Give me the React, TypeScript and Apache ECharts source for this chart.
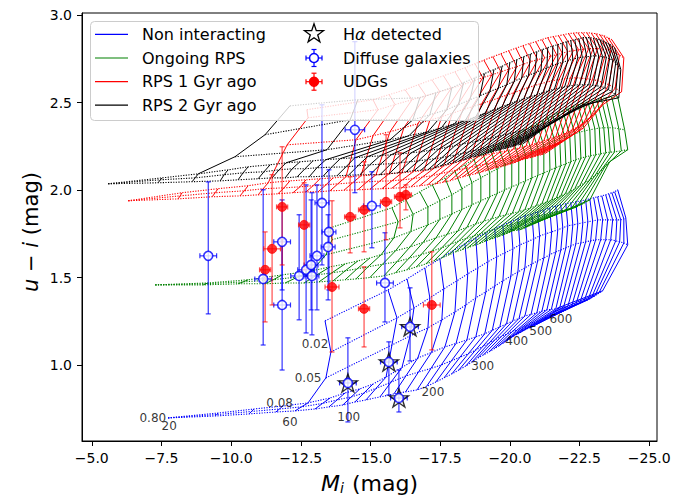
import React, { useEffect, useRef } from 'react';
import * as echarts from 'echarts';

type P = [number, number];

const xTicks = [-5, -7.5, -10, -12.5, -15, -17.5, -20, -22.5, -25];
const yTicks = [1.0, 1.5, 2.0, 2.5, 3.0];

// model grid: circular velocity columns (km/s)
const vcGrid = [20, 30, 40, 50, 60, 70, 80, 90, 100, 110, 125, 140, 155, 170, 185, 200, 215, 230, 245, 260, 275, 290, 305, 320, 335, 350, 365, 380, 395, 410, 425, 440, 455, 470, 485, 500, 515, 530, 545, 560, 580, 600];
const fullVc = [60, 110, 125, 140, 155, 170, 185, 200, 215, 230, 245, 260, 275, 290, 305, 320, 335, 350, 365, 380, 395, 410, 425, 440, 455, 470, 485, 500, 515, 530, 545, 560, 580, 600];
const fullVcBlack = [40, 80, 110, 125, 140, 155, 170, 185, 200, 215, 230, 245, 260, 275, 290, 305, 320, 335, 350, 365, 380, 395, 410, 425, 440, 455, 470, 485, 500, 515, 530, 545, 560, 580, 600];

// ---- Non interacting (blue) ----
const blueB2: P[] = [[-7.74,0.697],[-9.43,0.708],[-10.65,0.720],[-11.61,0.731],[-12.29,0.737],[-13.01,0.748],[-13.51,0.760],[-14.01,0.771],[-14.44,0.788],[-14.84,0.800],[-15.34,0.817],[-15.84,0.834],[-16.26,0.846],[-16.67,0.857],[-17.01,0.877],[-17.35,0.903],[-17.64,0.926],[-17.92,0.949],[-18.17,0.971],[-18.42,0.994],[-18.64,1.017],[-18.85,1.040],[-19.05,1.057],[-19.25,1.074],[-19.43,1.092],[-19.61,1.109],[-19.77,1.126],[-19.93,1.143],[-20.08,1.160],[-20.22,1.172],[-20.35,1.183],[-20.47,1.195],[-20.60,1.206],[-20.72,1.212],[-20.85,1.223],[-20.97,1.235],[-21.10,1.246],[-21.22,1.258],[-21.33,1.269],[-21.43,1.280],[-21.58,1.303],[-21.72,1.326]];
const blueB1: P[] = [[-7.74,0.697],[-9.48,0.716],[-10.73,0.734],[-11.73,0.748],[-12.52,0.760],[-13.28,0.780],[-13.80,0.800],[-14.31,0.817],[-14.77,0.840],[-15.20,0.866],[-15.74,0.902],[-16.27,0.937],[-16.72,0.959],[-17.17,0.980],[-17.54,1.000],[-17.90,1.023],[-18.21,1.044],[-18.51,1.064],[-18.77,1.085],[-19.03,1.106],[-19.26,1.126],[-19.48,1.146],[-19.69,1.162],[-19.89,1.177],[-20.09,1.191],[-20.29,1.204],[-20.46,1.217],[-20.63,1.229],[-20.78,1.239],[-20.93,1.247],[-21.07,1.255],[-21.20,1.264],[-21.34,1.271],[-21.47,1.275],[-21.61,1.285],[-21.74,1.295],[-21.88,1.305],[-22.01,1.315],[-22.13,1.327],[-22.24,1.338],[-22.38,1.357],[-22.52,1.375]];
const blueR3: P[] = [[-7.74,0.697],[-9.53,0.725],[-10.82,0.748],[-11.86,0.765],[-12.76,0.783],[-13.55,0.811],[-14.09,0.840],[-14.62,0.863],[-15.09,0.891],[-15.56,0.931],[-16.13,0.986],[-16.70,1.040],[-17.19,1.072],[-17.67,1.103],[-18.07,1.123],[-18.46,1.143],[-18.78,1.161],[-19.10,1.178],[-19.37,1.198],[-19.64,1.218],[-19.88,1.235],[-20.11,1.252],[-20.33,1.266],[-20.54,1.280],[-20.76,1.289],[-20.97,1.298],[-21.15,1.307],[-21.33,1.315],[-21.49,1.318],[-21.65,1.321],[-21.79,1.327],[-21.93,1.332],[-22.08,1.335],[-22.22,1.338],[-22.37,1.347],[-22.51,1.355],[-22.66,1.364],[-22.80,1.372],[-22.93,1.384],[-23.05,1.395],[-23.19,1.410],[-23.33,1.424]];
const blueR2: P[] = [[-13.40,0.926],[-15.77,1.114],[-16.42,1.166],[-17.06,1.212],[-17.56,1.258],[-18.03,1.303],[-18.42,1.343],[-18.78,1.384],[-19.14,1.418],[-19.46,1.452],[-19.75,1.481],[-20.04,1.509],[-20.29,1.532],[-20.54,1.555],[-20.79,1.578],[-21.00,1.595],[-21.22,1.612],[-21.43,1.630],[-21.65,1.647],[-21.83,1.658],[-22.01,1.670],[-22.19,1.681],[-22.37,1.693],[-22.55,1.698],[-22.72,1.704],[-22.90,1.710],[-23.08,1.716],[-23.26,1.716],[-23.44,1.716],[-23.62,1.716],[-23.80,1.710],[-23.94,1.704],[-24.09,1.698],[-24.23,1.687]];
const blueR1: P[] = [[-13.58,1.074],[-15.95,1.269],[-16.56,1.326],[-17.13,1.384],[-17.63,1.435],[-18.10,1.481],[-18.49,1.521],[-18.85,1.555],[-19.21,1.590],[-19.53,1.618],[-19.82,1.641],[-20.11,1.664],[-20.36,1.687],[-20.61,1.704],[-20.86,1.721],[-21.07,1.738],[-21.29,1.750],[-21.50,1.761],[-21.72,1.773],[-21.90,1.784],[-22.08,1.796],[-22.26,1.801],[-22.44,1.807],[-22.62,1.813],[-22.80,1.819],[-22.97,1.824],[-23.15,1.830],[-23.33,1.830],[-23.51,1.830],[-23.69,1.830],[-23.84,1.830],[-23.98,1.830],[-24.09,1.836],[-24.16,1.842]];
const blueR0: P[] = [[-13.37,1.252],[-15.63,1.429],[-16.31,1.492],[-16.95,1.555],[-17.49,1.607],[-17.96,1.653],[-18.39,1.693],[-18.78,1.727],[-19.14,1.756],[-19.46,1.779],[-19.75,1.801],[-20.04,1.819],[-20.29,1.836],[-20.54,1.853],[-20.79,1.864],[-21.00,1.876],[-21.22,1.887],[-21.43,1.899],[-21.65,1.910],[-21.83,1.916],[-22.01,1.922],[-22.19,1.927],[-22.37,1.933],[-22.55,1.939],[-22.72,1.944],[-22.87,1.950],[-23.01,1.956],[-23.15,1.962],[-23.30,1.967],[-23.44,1.973],[-23.55,1.979],[-23.66,1.985],[-23.76,1.990],[-23.87,2.002]];

// ---- Ongoing RPS (green) ----
const greenB2: P[] = [[-7.28,1.458],[-9.00,1.458],[-10.25,1.464],[-11.22,1.464],[-11.94,1.469],[-12.62,1.469],[-13.15,1.475],[-13.66,1.481],[-14.09,1.487],[-14.48,1.492],[-14.98,1.500],[-15.48,1.509],[-15.90,1.527],[-16.31,1.544],[-16.65,1.561],[-16.99,1.578],[-17.28,1.595],[-17.56,1.612],[-17.81,1.630],[-18.06,1.647],[-18.28,1.659],[-18.49,1.670],[-18.69,1.682],[-18.89,1.693],[-19.07,1.705],[-19.25,1.716],[-19.41,1.725],[-19.57,1.733],[-19.72,1.742],[-19.86,1.750],[-19.99,1.759],[-20.11,1.767],[-20.24,1.770],[-20.36,1.773],[-20.49,1.782],[-20.61,1.790],[-20.74,1.799],[-20.86,1.807],[-20.97,1.816],[-21.07,1.824],[-21.22,1.833],[-21.36,1.842]];
const greenB1: P[] = [[-7.28,1.458],[-9.09,1.464],[-10.43,1.475],[-11.51,1.487],[-12.40,1.504],[-13.08,1.515],[-13.62,1.527],[-14.09,1.538],[-14.52,1.550],[-14.91,1.561],[-15.43,1.576],[-15.95,1.590],[-16.38,1.610],[-16.81,1.630],[-17.19,1.650],[-17.56,1.670],[-17.87,1.690],[-18.17,1.710],[-18.44,1.724],[-18.71,1.738],[-18.94,1.750],[-19.17,1.761],[-19.39,1.773],[-19.61,1.784],[-19.81,1.793],[-20.00,1.801],[-20.18,1.810],[-20.36,1.819],[-20.52,1.828],[-20.68,1.836],[-20.84,1.845],[-21.00,1.853],[-21.17,1.859],[-21.33,1.864],[-21.49,1.870],[-21.65,1.876],[-21.83,1.882],[-22.01,1.887],[-22.21,1.896],[-22.40,1.904],[-22.64,1.924],[-22.87,1.944]];
const greenR3: P[] = [[-7.28,1.458],[-9.18,1.469],[-10.61,1.487],[-11.83,1.515],[-12.90,1.538],[-13.55,1.561],[-14.09,1.578],[-14.55,1.595],[-14.98,1.612],[-15.38,1.630],[-15.90,1.653],[-16.42,1.675],[-16.89,1.701],[-17.35,1.727],[-17.75,1.747],[-18.14,1.767],[-18.46,1.787],[-18.78,1.807],[-19.07,1.822],[-19.35,1.836],[-19.61,1.848],[-19.86,1.859],[-20.09,1.868],[-20.32,1.876],[-20.54,1.888],[-20.75,1.899],[-20.95,1.911],[-21.15,1.922],[-21.33,1.933],[-21.50,1.944],[-21.67,1.956],[-21.83,1.967],[-21.99,1.979],[-22.15,1.990],[-22.33,2.008],[-22.51,2.025],[-22.69,2.042],[-22.87,2.059],[-23.05,2.082],[-23.23,2.105],[-23.41,2.134],[-23.58,2.162]];
const greenR2: P[] = [[-13.40,1.630],[-15.84,1.727],[-16.45,1.764],[-17.06,1.801],[-17.49,1.833],[-17.92,1.864],[-18.28,1.890],[-18.64,1.916],[-18.96,1.939],[-19.28,1.962],[-19.55,1.982],[-19.82,2.002],[-20.07,2.019],[-20.32,2.036],[-20.56,2.053],[-20.79,2.070],[-21.01,2.085],[-21.22,2.099],[-21.44,2.114],[-21.65,2.128],[-21.83,2.140],[-22.01,2.151],[-22.19,2.163],[-22.37,2.174],[-22.55,2.183],[-22.72,2.191],[-22.90,2.197],[-23.08,2.202],[-23.26,2.208],[-23.44,2.214],[-23.60,2.217],[-23.76,2.219],[-24.00,2.225],[-24.23,2.231]];
const greenR1: P[] = [[-13.62,1.716],[-15.99,1.819],[-16.53,1.862],[-17.06,1.904],[-17.49,1.939],[-17.92,1.973],[-18.28,2.008],[-18.64,2.042],[-18.96,2.071],[-19.28,2.099],[-19.55,2.122],[-19.82,2.145],[-20.07,2.165],[-20.32,2.185],[-20.56,2.202],[-20.79,2.219],[-21.01,2.237],[-21.22,2.254],[-21.42,2.268],[-21.61,2.282],[-21.79,2.294],[-21.97,2.305],[-22.15,2.314],[-22.33,2.322],[-22.51,2.331],[-22.69,2.339],[-22.87,2.345],[-23.05,2.351],[-23.21,2.354],[-23.37,2.357],[-23.53,2.357],[-23.69,2.357],[-23.91,2.351],[-24.12,2.345]];
const greenR0: P[] = [[-13.55,1.784],[-15.77,1.899],[-16.27,1.945],[-16.77,1.990],[-17.22,2.030],[-17.67,2.070],[-18.03,2.108],[-18.39,2.145],[-18.71,2.177],[-19.03,2.208],[-19.30,2.234],[-19.57,2.259],[-19.82,2.282],[-20.07,2.305],[-20.31,2.325],[-20.54,2.345],[-20.76,2.363],[-20.97,2.380],[-21.17,2.397],[-21.36,2.414],[-21.54,2.428],[-21.72,2.442],[-21.90,2.454],[-22.08,2.465],[-22.26,2.477],[-22.44,2.488],[-22.62,2.497],[-22.80,2.505],[-22.96,2.511],[-23.12,2.517],[-23.28,2.523],[-23.44,2.528],[-23.66,2.531],[-23.87,2.534]];

// ---- RPS 1 Gyr ago (red) ----
const redB2: P[] = [[-6.31,1.939],[-8.10,1.950],[-9.32,1.962],[-10.32,1.967],[-10.97,1.973],[-11.68,1.979],[-12.22,1.985],[-12.69,1.990],[-13.12,1.990],[-13.55,1.996],[-14.05,1.999],[-14.55,2.002],[-14.98,2.005],[-15.41,2.008],[-15.77,2.011],[-16.13,2.013],[-16.45,2.019],[-16.77,2.025],[-17.06,2.031],[-17.35,2.036],[-17.60,2.045],[-17.85,2.053],[-18.08,2.065],[-18.31,2.076],[-18.53,2.085],[-18.75,2.093],[-18.95,2.102],[-19.14,2.111],[-19.32,2.120],[-19.50,2.128],[-19.66,2.134],[-19.82,2.139],[-19.98,2.148],[-20.14,2.156],[-20.29,2.165],[-20.43,2.174],[-20.58,2.180],[-20.72,2.185],[-20.85,2.191],[-20.97,2.196],[-21.11,2.202],[-21.25,2.208]];
const redB1: P[] = [[-6.31,1.939],[-8.17,1.967],[-9.43,1.985],[-10.47,1.996],[-11.15,2.008],[-11.90,2.013],[-12.47,2.019],[-12.94,2.025],[-13.40,2.030],[-13.83,2.036],[-14.36,2.042],[-14.88,2.048],[-15.33,2.051],[-15.77,2.053],[-16.15,2.059],[-16.52,2.065],[-16.86,2.074],[-17.20,2.082],[-17.51,2.094],[-17.81,2.105],[-18.08,2.114],[-18.35,2.122],[-18.60,2.131],[-18.85,2.139],[-19.09,2.148],[-19.32,2.156],[-19.54,2.165],[-19.75,2.174],[-19.95,2.183],[-20.14,2.191],[-20.34,2.200],[-20.54,2.208],[-20.74,2.217],[-20.93,2.225],[-21.13,2.237],[-21.33,2.248],[-21.53,2.260],[-21.72,2.271],[-21.94,2.288],[-22.15,2.305],[-22.40,2.331],[-22.65,2.357]];
const redR3: P[] = [[-6.31,1.939],[-8.24,1.985],[-9.53,2.008],[-10.61,2.025],[-11.33,2.042],[-12.11,2.053],[-12.69,2.059],[-13.19,2.065],[-13.66,2.070],[-14.12,2.076],[-14.66,2.082],[-15.20,2.088],[-15.67,2.094],[-16.13,2.099],[-16.53,2.105],[-16.92,2.111],[-17.28,2.125],[-17.63,2.139],[-17.96,2.154],[-18.28,2.168],[-18.57,2.180],[-18.85,2.191],[-19.12,2.200],[-19.39,2.208],[-19.64,2.217],[-19.89,2.225],[-20.13,2.234],[-20.36,2.242],[-20.58,2.251],[-20.79,2.259],[-21.01,2.271],[-21.22,2.282],[-21.44,2.294],[-21.65,2.305],[-21.85,2.317],[-22.04,2.328],[-22.24,2.345],[-22.44,2.362],[-22.66,2.388],[-22.87,2.414],[-23.10,2.451],[-23.33,2.488]];
const redR2: P[] = [[-12.01,2.259],[-14.48,2.288],[-15.09,2.311],[-15.70,2.334],[-16.20,2.357],[-16.70,2.380],[-17.13,2.400],[-17.56,2.420],[-17.94,2.440],[-18.31,2.460],[-18.65,2.477],[-18.99,2.494],[-19.30,2.511],[-19.61,2.528],[-19.88,2.543],[-20.14,2.557],[-20.40,2.572],[-20.65,2.586],[-20.88,2.598],[-21.11,2.609],[-21.33,2.618],[-21.54,2.626],[-21.76,2.632],[-21.97,2.637],[-22.17,2.640],[-22.37,2.643],[-22.57,2.640],[-22.76,2.637],[-22.96,2.632],[-23.15,2.626],[-23.35,2.615],[-23.55,2.603],[-23.78,2.583],[-24.01,2.563]];
const redR1: P[] = [[-12.76,2.414],[-15.27,2.460],[-15.88,2.489],[-16.49,2.517],[-16.99,2.540],[-17.49,2.563],[-17.90,2.583],[-18.31,2.603],[-18.67,2.623],[-19.03,2.643],[-19.36,2.660],[-19.68,2.677],[-19.97,2.692],[-20.25,2.706],[-20.50,2.721],[-20.75,2.735],[-21.00,2.746],[-21.25,2.757],[-21.47,2.766],[-21.68,2.774],[-21.88,2.783],[-22.08,2.792],[-22.28,2.798],[-22.47,2.803],[-22.65,2.806],[-22.83,2.809],[-22.99,2.809],[-23.15,2.809],[-23.32,2.806],[-23.48,2.803],[-23.62,2.795],[-23.76,2.786],[-23.93,2.772],[-24.09,2.757]];
const redR0: P[] = [[-12.72,2.460],[-15.09,2.517],[-15.67,2.546],[-16.24,2.574],[-16.72,2.603],[-17.20,2.631],[-17.62,2.654],[-18.03,2.677],[-18.39,2.700],[-18.75,2.723],[-19.07,2.743],[-19.39,2.763],[-19.68,2.780],[-19.96,2.797],[-20.22,2.812],[-20.47,2.826],[-20.70,2.838],[-20.93,2.849],[-21.15,2.861],[-21.36,2.872],[-21.56,2.878],[-21.75,2.883],[-21.93,2.889],[-22.11,2.895],[-22.28,2.898],[-22.44,2.900],[-22.60,2.900],[-22.76,2.900],[-22.92,2.898],[-23.08,2.895],[-23.23,2.889],[-23.37,2.883],[-23.52,2.872],[-23.66,2.860]];

// ---- RPS 2 Gyr ago (black) ----
const blackB2: P[] = [[-5.59,2.036],[-7.38,2.042],[-8.60,2.048],[-9.61,2.053],[-10.25,2.059],[-10.97,2.065],[-11.47,2.070],[-11.94,2.070],[-12.37,2.076],[-12.80,2.076],[-13.30,2.079],[-13.80,2.082],[-14.21,2.085],[-14.62,2.088],[-14.98,2.088],[-15.34,2.088],[-15.67,2.094],[-15.99,2.099],[-16.28,2.105],[-16.56,2.111],[-16.81,2.114],[-17.06,2.116],[-17.30,2.128],[-17.53,2.139],[-17.75,2.148],[-17.96,2.156],[-18.16,2.165],[-18.35,2.174],[-18.53,2.183],[-18.71,2.191],[-18.87,2.197],[-19.03,2.202],[-19.19,2.211],[-19.35,2.219],[-19.50,2.225],[-19.64,2.231],[-19.79,2.237],[-19.93,2.242],[-20.06,2.248],[-20.18,2.254],[-20.33,2.260],[-20.47,2.265]];
const blackB1: P[] = [[-5.59,2.036],[-7.46,2.059],[-8.71,2.070],[-9.75,2.088],[-10.43,2.099],[-11.18,2.105],[-11.72,2.116],[-12.19,2.122],[-12.65,2.122],[-13.08,2.128],[-13.60,2.131],[-14.12,2.133],[-14.55,2.139],[-14.98,2.145],[-15.36,2.148],[-15.74,2.151],[-16.08,2.157],[-16.42,2.162],[-16.73,2.168],[-17.03,2.174],[-17.30,2.180],[-17.56,2.185],[-17.81,2.194],[-18.06,2.202],[-18.30,2.211],[-18.53,2.219],[-18.75,2.228],[-18.96,2.236],[-19.16,2.245],[-19.35,2.254],[-19.55,2.263],[-19.75,2.271],[-19.93,2.280],[-20.11,2.288],[-20.29,2.297],[-20.47,2.305],[-20.67,2.317],[-20.86,2.328],[-21.06,2.343],[-21.25,2.357],[-21.45,2.380],[-21.65,2.402]];
const blackR3: P[] = [[-5.59,2.036],[-7.53,2.070],[-8.82,2.093],[-9.89,2.116],[-10.61,2.133],[-11.40,2.145],[-11.97,2.156],[-12.47,2.162],[-12.94,2.168],[-13.40,2.174],[-13.92,2.180],[-14.44,2.185],[-14.89,2.191],[-15.34,2.196],[-15.74,2.202],[-16.13,2.208],[-16.47,2.214],[-16.81,2.219],[-17.14,2.228],[-17.46,2.236],[-17.75,2.245],[-18.03,2.254],[-18.30,2.263],[-18.57,2.271],[-18.82,2.280],[-19.07,2.288],[-19.30,2.297],[-19.53,2.305],[-19.75,2.314],[-19.96,2.322],[-20.18,2.331],[-20.39,2.339],[-20.61,2.348],[-20.82,2.357],[-21.04,2.369],[-21.25,2.380],[-21.47,2.391],[-21.68,2.402],[-21.90,2.420],[-22.11,2.437],[-22.37,2.463],[-22.62,2.488]];
const blackR2: P[] = [[-10.14,2.191],[-13.44,2.231],[-15.70,2.288],[-16.38,2.311],[-17.06,2.334],[-17.55,2.357],[-18.03,2.380],[-18.41,2.400],[-18.78,2.420],[-19.11,2.440],[-19.43,2.460],[-19.72,2.477],[-20.00,2.494],[-20.25,2.509],[-20.50,2.523],[-20.74,2.535],[-20.97,2.546],[-21.19,2.558],[-21.40,2.569],[-21.60,2.578],[-21.79,2.586],[-21.97,2.592],[-22.15,2.597],[-22.33,2.600],[-22.51,2.603],[-22.67,2.603],[-22.83,2.603],[-22.98,2.600],[-23.12,2.597],[-23.27,2.592],[-23.41,2.586],[-23.54,2.575],[-23.66,2.563],[-23.79,2.546],[-23.91,2.528]];
const blackR1: P[] = [[-11.22,2.317],[-14.27,2.402],[-16.52,2.402],[-17.13,2.431],[-17.74,2.460],[-18.16,2.489],[-18.57,2.517],[-18.93,2.540],[-19.28,2.563],[-19.59,2.583],[-19.89,2.603],[-20.16,2.623],[-20.43,2.643],[-20.67,2.657],[-20.90,2.671],[-21.12,2.686],[-21.33,2.700],[-21.53,2.712],[-21.72,2.723],[-21.90,2.732],[-22.08,2.740],[-22.26,2.749],[-22.44,2.757],[-22.60,2.760],[-22.76,2.763],[-22.91,2.766],[-23.05,2.769],[-23.19,2.766],[-23.33,2.763],[-23.46,2.758],[-23.58,2.752],[-23.69,2.741],[-23.80,2.729],[-23.89,2.709],[-23.98,2.689]];
const blackR0: P[] = [[-12.11,2.482],[-14.55,2.517],[-16.77,2.528],[-17.35,2.557],[-17.92,2.586],[-18.34,2.615],[-18.75,2.643],[-19.09,2.666],[-19.43,2.689],[-19.72,2.709],[-20.00,2.729],[-20.25,2.746],[-20.50,2.763],[-20.74,2.778],[-20.97,2.792],[-21.17,2.804],[-21.36,2.815],[-21.54,2.824],[-21.72,2.832],[-21.88,2.841],[-22.04,2.849],[-22.19,2.855],[-22.33,2.860],[-22.48,2.866],[-22.62,2.872],[-22.75,2.872],[-22.87,2.872],[-23.00,2.869],[-23.12,2.866],[-23.23,2.861],[-23.33,2.855],[-23.44,2.846],[-23.55,2.837],[-23.66,2.826],[-23.76,2.815]];

// ---- observed galaxies ----
const diffuseM = [-9.18, -11.15, -11.83, -11.83, -12.44, -12.69, -12.87, -12.90, -13.08, -13.48, -13.51, -13.26, -14.44, -15.05, -15.52, -14.19, -15.66, -16.42, -16.02];
const diffuseUI = [1.624, 1.492, 1.704, 1.343, 1.509, 1.544, 1.572, 1.509, 1.624, 1.675, 1.761, 1.927, 2.345, 1.910, 1.469, 0.897, 1.017, 1.218, 0.811];
const diffuseUIhi = [2.047, 2.002, 1.944, 1.716, 1.859, 2.030, 1.944, 1.985, 2.030, 1.859, 2.116, 2.488, 2.849, 2.105, 1.756, 1.155, 1.132, 1.441, 0.971];
const diffuseUIlo = [1.292, 1.114, 1.429, 0.971, 1.258, 1.183, 1.315, 1.172, 1.315, 1.372, 1.429, 1.572, 1.985, 1.670, 1.246, 0.674, 0.828, 1.023, 0.731];
const diffuseMerr = [0.3, 0.3, 0.3, 0.3, 0.3, 0.3, 0.25, 0.25, 0.25, 0.25, 0.25, 0.25, 0.35, 0.3, 0.3, 0.3, 0.3, 0.3, 0.3];

const udgM = [-11.22, -11.47, -11.83, -12.62, -13.62, -14.77, -14.27, -14.77, -15.56, -16.06, -16.27, -17.20];
const udgUI = [1.544, 1.664, 1.904, 1.801, 1.446, 1.321, 1.847, 1.887, 1.933, 1.962, 1.973, 1.343];
const udgUIhi = [1.761, 2.088, 2.248, 2.042, 1.939, 1.561, 2.076, 2.162, 2.317, 2.214, 2.030, 1.647];
const udgUIlo = [1.246, 1.343, 1.572, 1.544, 1.074, 1.103, 1.641, 1.647, 1.716, 1.784, 1.887, 1.086];
const udgMerr = [0.2, 0.3, 0.2, 0.2, 0.25, 0.2, 0.2, 0.2, 0.2, 0.2, 0.2, 0.3];

const haM = [-14.19, -15.66, -16.42, -16.02];
const haUI = [0.897, 1.017, 1.218, 0.811];

// grid annotations
const lamLabels = ['0.80', '0.08', '0.05', '0.02'];
const lamM = [-7.19, -11.74, -12.76, -13.01];
const lamUI = [0.698, 0.782, 0.926, 1.120];
const vcLabels = ['20', '60', '100', '200', '300', '400', '500', '600'];
const vcM = [-7.78, -12.11, -14.22, -17.24, -19.03, -20.25, -21.11, -21.83];
const vcUI = [0.651, 0.674, 0.702, 0.845, 0.994, 1.137, 1.195, 1.263];

const FONT = 'DejaVu Sans';
const BLUE = '#0000ff';
const GREEN = '#008000';
const RED = '#ff0000';
const BLACK = '#000000';

function starPts(cx: number, cy: number, R: number, r: number): number[][] {
  const pts: number[][] = [];
  for (let k = 0; k < 10; k++) {
    const a = -Math.PI / 2 + (k * Math.PI) / 5;
    const rr = k % 2 ? r : R;
    pts.push([cx + rr * Math.cos(a), cy + rr * Math.sin(a)]);
  }
  return pts;
}
const starSymbol = 'path://M' + starPts(0, 0, 10, 3.9).map((p) => p[0].toFixed(2) + ' ' + p[1].toFixed(2)).join(' L') + ' Z';

function family(color: string, band: P[][], up: P[][], full: number[]): any[] {
  const out: any[] = [];
  const base = { type: 'line', symbol: 'none', showSymbol: false, silent: true, animation: false, z: 2 };
  [...band, ...up].forEach((row) => {
    out.push({ ...base, data: row, lineStyle: { color, width: 1.1, type: [1.2, 1.4] } });
  });
  vcGrid.forEach((vc, i) => {
    const pts: P[] = [];
    band.forEach((r) => { if (r[i]) pts.push(r[i]); });
    const j = full.indexOf(vc);
    if (j >= 0) up.forEach((r) => { if (r[j]) pts.push(r[j]); });
    out.push({ ...base, data: pts, lineStyle: { color, width: 1, type: 'solid' } });
  });
  return out;
}

function errRender(color: string) {
  return (params: any, api: any) => {
    const x = api.value(0), y = api.value(1);
    const xl = api.value(2), xh = api.value(3), yl = api.value(4), yh = api.value(5);
    const a = api.coord([xl, y]), b = api.coord([xh, y]);
    const c = api.coord([x, yl]), d = api.coord([x, yh]);
    const cap = 2.5;
    const st = { stroke: color, lineWidth: 1.2 };
    const ln = (x1: number, y1: number, x2: number, y2: number) => ({ type: 'line', shape: { x1, y1, x2, y2 }, style: st });
    return {
      type: 'group',
      children: [
        ln(c[0], c[1], d[0], d[1]),
        ln(c[0] - cap, c[1], c[0] + cap, c[1]),
        ln(d[0] - cap, d[1], d[0] + cap, d[1]),
        ln(a[0], a[1], b[0], b[1]),
        ln(a[0], a[1] - cap, a[0], a[1] + cap),
        ln(b[0], b[1] - cap, b[0], b[1] + cap),
      ],
    };
  };
}

function legendGraphics(): any[] {
  const z = 100;
  const g: any[] = [];
  g.push({ type: 'rect', z, shape: { x: 90.5, y: 21.5, width: 388, height: 99, r: 4 }, style: { fill: 'rgba(255,255,255,0.8)', stroke: '#cccccc', lineWidth: 1 } });
  const rows = [34.3, 58, 81.7, 105.2];
  const left: [string, string][] = [['Non interacting', BLUE], ['Ongoing RPS', GREEN], ['RPS 1 Gyr ago', RED], ['RPS 2 Gyr ago', BLACK]];
  left.forEach(([t, c], i) => {
    g.push({ type: 'line', z, shape: { x1: 95, y1: rows[i], x2: 128, y2: rows[i] }, style: { stroke: c, lineWidth: 1.2 } });
    g.push({ type: 'text', z, x: 142, y: rows[i], style: { text: t, fill: '#000', fontSize: 16, fontFamily: FONT, textAlign: 'left', textVerticalAlign: 'middle' } });
  });
  const mx = 314;
  g.push({ type: 'polygon', z, shape: { points: starPts(mx, rows[0] - 0.5, 10, 3.9) }, style: { fill: 'none', stroke: '#000', lineWidth: 1.3 } });
  const eb = (cy: number, col: string, filled: boolean) => {
    const st = { stroke: col, lineWidth: 1.2 };
    g.push({ type: 'line', z, shape: { x1: mx - 8, y1: cy, x2: mx + 8, y2: cy }, style: st });
    g.push({ type: 'line', z, shape: { x1: mx, y1: cy - 8.5, x2: mx, y2: cy + 8.5 }, style: st });
    g.push({ type: 'line', z, shape: { x1: mx - 8, y1: cy - 2.5, x2: mx - 8, y2: cy + 2.5 }, style: st });
    g.push({ type: 'line', z, shape: { x1: mx + 8, y1: cy - 2.5, x2: mx + 8, y2: cy + 2.5 }, style: st });
    g.push({ type: 'line', z, shape: { x1: mx - 2.5, y1: cy - 8.5, x2: mx + 2.5, y2: cy - 8.5 }, style: st });
    g.push({ type: 'line', z, shape: { x1: mx - 2.5, y1: cy + 8.5, x2: mx + 2.5, y2: cy + 8.5 }, style: st });
    g.push({ type: 'circle', z, shape: { cx: mx, cy, r: 4.5 }, style: { fill: filled ? col : '#ffffff', stroke: col, lineWidth: 1.5 } });
  };
  eb(rows[1], BLUE, false);
  eb(rows[2], RED, true);
  const rt: [string, number][] = [['H{it|α} detected', rows[0]], ['Diffuse galaxies', rows[1]], ['UDGs', rows[2]]];
  rt.forEach(([t, y]) => {
    g.push({
      type: 'text', z, x: 343, y,
      style: {
        text: t, fill: '#000', fontSize: 16, fontFamily: FONT, textAlign: 'left', textVerticalAlign: 'middle',
        rich: { it: { fontStyle: 'italic', fontSize: 16, fontFamily: FONT, fill: '#000' } },
      },
    });
  });
  return g;
}

function axisTitles(): any[] {
  const g: any[] = [];
  g.push({ type: 'text', x: 321, y: 483, style: { text: 'M', fill: '#000', fontSize: 22, fontStyle: 'italic', fontFamily: FONT, textAlign: 'left', textVerticalAlign: 'middle' } });
  g.push({ type: 'text', x: 340, y: 488, style: { text: 'i', fill: '#000', fontSize: 14, fontStyle: 'italic', fontFamily: FONT, textAlign: 'left', textVerticalAlign: 'middle' } });
  g.push({ type: 'text', x: 352, y: 483, style: { text: '(mag)', fill: '#000', fontSize: 22, fontFamily: FONT, textAlign: 'left', textVerticalAlign: 'middle' } });
  g.push({
    type: 'text', x: 31, y: 232, rotation: Math.PI / 2,
    style: {
      text: '{it|u}{n| − }{it|i}{n| (mag)}', fill: '#000', fontSize: 21, fontFamily: FONT, textAlign: 'center', textVerticalAlign: 'middle',
      rich: {
        it: { fontStyle: 'italic', fontSize: 21, fontFamily: FONT, fill: '#000' },
        n: { fontSize: 21, fontFamily: FONT, fill: '#000' },
      },
    },
  });
  return g;
}

const fmt = (v: number) => (v < 0 ? '\u2212' : '') + Math.abs(v).toFixed(1);

export default function App() {
  const ref = useRef<HTMLDivElement>(null);
  useEffect(() => {
    if (!ref.current) return;
    const chart = echarts.init(ref.current, undefined, { renderer: 'svg' });
    const series: any[] = [
      ...family(BLUE, [blueB2, blueB1, blueR3], [blueR2, blueR1, blueR0], fullVc),
      ...family(GREEN, [greenB2, greenB1, greenR3], [greenR2, greenR1, greenR0], fullVc),
      ...family(RED, [redB2, redB1, redR3], [redR2, redR1, redR0], fullVc),
      ...family(BLACK, [blackB2, blackB1, blackR3], [blackR2, blackR1, blackR0], fullVcBlack),
      {
        type: 'custom', silent: true, z: 3,
        renderItem: errRender('rgba(0,0,255,0.8)'),
        data: diffuseM.map((m, i) => [m, diffuseUI[i], m + diffuseMerr[i], m - diffuseMerr[i], diffuseUIlo[i], diffuseUIhi[i]]),
      },
      {
        type: 'custom', silent: true, z: 3,
        renderItem: errRender('rgba(255,0,0,0.7)'),
        data: udgM.map((m, i) => [m, udgUI[i], m + udgMerr[i], m - udgMerr[i], udgUIlo[i], udgUIhi[i]]),
      },
      {
        type: 'scatter', silent: true, z: 4, symbol: 'circle', symbolSize: 9,
        itemStyle: { color: RED, borderColor: RED, borderWidth: 1 },
        data: udgM.map((m, i) => [m, udgUI[i]]),
      },
      {
        type: 'scatter', silent: true, z: 4, symbol: starSymbol, symbolSize: [19, 18],
        itemStyle: { color: 'rgba(0,0,0,0)', borderColor: '#000', borderWidth: 1.4 },
        data: haM.map((m, i) => [m, haUI[i]]),
      },
      {
        type: 'scatter', silent: true, z: 5, symbol: 'circle', symbolSize: 9,
        itemStyle: { color: '#ffffff', borderColor: BLUE, borderWidth: 1.6 },
        data: diffuseM.map((m, i) => [m, diffuseUI[i]]),
      },
      {
        type: 'scatter', silent: true, z: 6, symbolSize: 1, itemStyle: { color: 'rgba(0,0,0,0)' },
        label: { show: true, position: 'inside', formatter: '{b}', color: '#000', fontSize: 12, fontFamily: FONT },
        data: [
          ...lamLabels.map((t, i) => ({ name: t, value: [lamM[i], lamUI[i]] })),
          ...vcLabels.map((t, i) => ({ name: t, value: [vcM[i], vcUI[i]] })),
        ],
      },
    ];
    chart.setOption({
      animation: false,
      backgroundColor: '#ffffff',
      grid: { left: 82, right: 42, top: 13, bottom: 56, show: true, borderColor: '#000', borderWidth: 1, backgroundColor: 'transparent' },
      xAxis: {
        type: 'value', min: -25.28, max: -4.65, inverse: true,
        axisLine: { show: true, onZero: false, lineStyle: { color: '#000', width: 1 } },
        axisTick: { show: true, length: 5, customValues: xTicks, lineStyle: { color: '#000' } },
        axisLabel: { customValues: xTicks, formatter: fmt, fontSize: 14, fontFamily: FONT, color: '#000', margin: 10 },
        splitLine: { show: false },
      },
      yAxis: {
        type: 'value', min: 0.565, max: 3.013,
        axisLine: { show: true, onZero: false, lineStyle: { color: '#000', width: 1 } },
        axisTick: { show: true, length: 5, customValues: yTicks, lineStyle: { color: '#000' } },
        axisLabel: { customValues: yTicks, formatter: (v: number) => v.toFixed(1), fontSize: 14, fontFamily: FONT, color: '#000', margin: 10 },
        splitLine: { show: false },
      },
      graphic: [...axisTitles(), ...legendGraphics()],
      series,
    });
    return () => chart.dispose();
  }, []);
  return <div ref={ref} style={{ position: 'fixed', left: 0, top: 0, width: 699, height: 497 }} />;
}
